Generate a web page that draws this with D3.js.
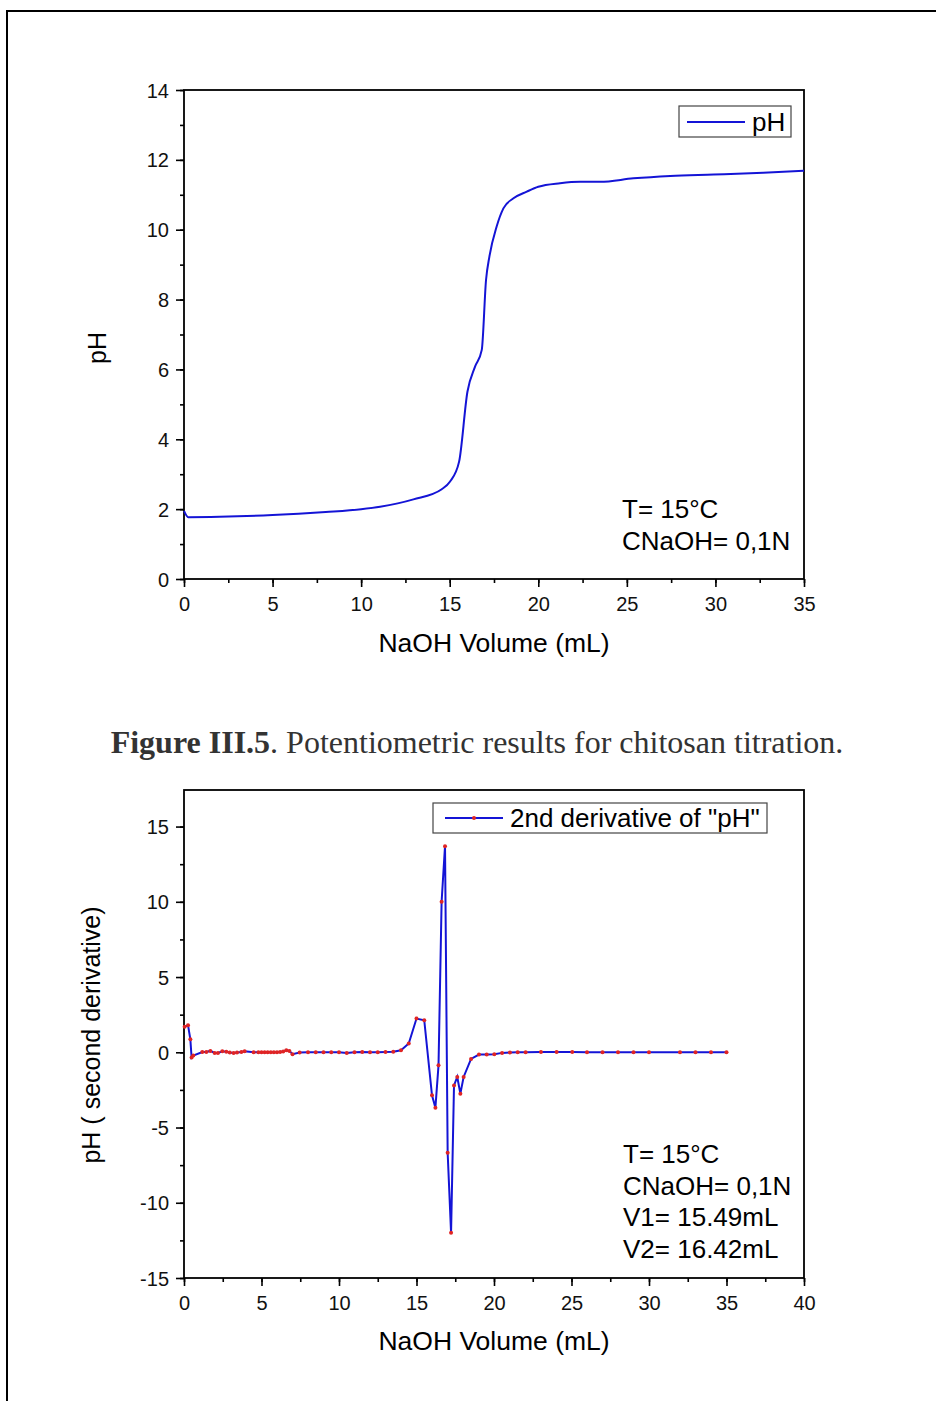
<!DOCTYPE html>
<html>
<head>
<meta charset="utf-8">
<script src="https://cdn.jsdelivr.net/npm/d3@7"></script>
<style>
  body { margin: 0; background: #fff; }
  svg text { font-family: "Liberation Sans", Arial, sans-serif; }
</style>
</head>
<body>
<div id="chart"></div>
<script>
// titration curve (top)
var phVolume = [0, 0.24, 2, 5, 8, 10, 11.07, 12.95, 14.55, 15.02, 15.53, 16.0, 16.43, 16.81, 17.05, 17.24, 17.65, 18.03, 18.6, 19.35, 20.0, 21.23, 22.36, 23.49, 25.37, 27.45, 29.9, 32.7, 35];
var phValues = [1.95, 1.77, 1.78, 1.83, 1.92, 2.0, 2.07, 2.28, 2.57, 2.79, 3.36, 5.36, 6.08, 6.56, 8.56, 9.23, 10.09, 10.61, 10.9, 11.09, 11.23, 11.33, 11.37, 11.37, 11.47, 11.54, 11.58, 11.63, 11.69];

// second derivative (bottom)
var d2Volume = [0.04, 0.26, 0.41, 0.49, 0.6, 1.18, 1.44, 1.7, 1.98, 2.19, 2.47, 2.73, 2.95, 3.2, 3.42, 3.7, 3.91, 4.49, 4.8, 5.0,
    5.2, 5.4, 5.6, 5.8, 6.0, 6.2, 6.4, 6.6, 6.8, 7.0, 7.46, 8.0, 8.5, 9.0, 9.5, 10.0, 10.5, 11.0, 11.5, 12.0,
    12.5, 13.0, 13.5, 14.0, 14.5, 15.0, 15.5, 16.0, 16.22, 16.42, 16.62, 16.84, 17.01, 17.23, 17.42, 17.63, 17.83, 18.04, 18.52, 19.03,
    19.53, 20.02, 20.52, 21.03, 21.53, 22.04, 23.03, 24.04, 25.05, 26.0, 27.0, 28.0, 29.0, 30.0, 32.0, 33.0, 34.0, 35.0];
var d2Values = [1.69, 1.8, 0.86, -0.35, -0.22, 0.02, 0.02, 0.09, -0.04, -0.04, 0.07, 0.04, -0.02, -0.04, -0.02, 0.02, 0.07, 0, 0, 0,
    0, 0, 0, 0, 0, 0.02, 0.05, 0.13, 0.09, -0.13, -0.02, 0, 0, 0, 0, 0, -0.04, 0, 0.02, 0,
    0, 0.02, 0.04, 0.13, 0.58, 2.24, 2.13, -2.86, -3.68, -0.87, 10.0, 13.7, -6.68, -12.0, -2.2, -1.64, -2.75, -1.64, -0.44, -0.15,
    -0.15, -0.13, -0.04, -0.02, 0, 0, 0.02, 0.02, 0.02, 0, 0, 0, 0, 0, 0, 0, 0, 0];

var topXTicks = [0, 5, 10, 15, 20, 25, 30, 35];
var topYTicks = [0, 2, 4, 6, 8, 10, 12, 14];
var botXTicks = [0, 5, 10, 15, 20, 25, 30, 35, 40];
var botYTicks = [-15, -10, -5, 0, 5, 10, 15];

var topNotes = ["T= 15°C", "CNaOH= 0,1N"];
var botNotes = ["T= 15°C", "CNaOH= 0,1N", "V1= 15.49mL", "V2= 16.42mL"];

var blue = "#1414d6";
var red = "#e02424";

var svg = d3.select("#chart")
    .append("svg")
    .attr("width", 936)
    .attr("height", 1401);

// page frame
svg.append("path")
    .attr("d", "M7,1401 V11 H936")
    .attr("fill", "none")
    .attr("stroke", "#000")
    .attr("stroke-width", 2);

function plain(d) { return String(d); }

function drawAxes(g, x, y, xTicks, yTicks, xMinor, yMinor) {
    var w = x.range()[1], h = y.range()[0];

    g.append("g")
        .attr("transform", "translate(0," + h + ")")
        .call(d3.axisBottom(x).tickValues(xMinor).tickSize(4).tickFormat(""));
    g.append("g")
        .call(d3.axisLeft(y).tickValues(yMinor).tickSize(4).tickFormat(""));

    var xa = g.append("g")
        .attr("transform", "translate(0," + h + ")")
        .call(d3.axisBottom(x).tickValues(xTicks).tickSize(8).tickPadding(10).tickFormat(plain));
    var ya = g.append("g")
        .call(d3.axisLeft(y).tickValues(yTicks).tickSize(8).tickPadding(7).tickFormat(plain));

    g.selectAll(".domain").remove();
    g.selectAll(".tick line").attr("stroke", "#000").attr("stroke-width", 1.6);
    xa.selectAll("text").attr("font-size", 20).attr("fill", "#111");
    ya.selectAll("text").attr("font-size", 20).attr("fill", "#111").attr("dy", "0.35em");

    g.append("rect")
        .attr("width", w)
        .attr("height", h)
        .attr("fill", "none")
        .attr("stroke", "#000")
        .attr("stroke-width", 1.8);
}

// ---------- top chart ----------
var topChart = svg.append("g").attr("transform", "translate(184,90)");
var x1 = d3.scaleLinear().domain([0, 35]).range([0, 620]);
var y1 = d3.scaleLinear().domain([0, 14]).range([489, 0]);

drawAxes(topChart, x1, y1, topXTicks, topYTicks,
    d3.range(0, 35.1, 2.5), d3.range(0, 14.1, 1));

var phData = phVolume.map(function (v, i) { return [v, phValues[i]]; });

topChart.append("path")
    .datum(phData)
    .attr("fill", "none")
    .attr("stroke", blue)
    .attr("stroke-width", 2)
    .attr("d", d3.line().curve(d3.curveMonotoneX)
        .x(function (d) { return x1(d[0]); }).y(function (d) { return y1(d[1]); }));

// legend
topChart.append("rect").attr("x", 495).attr("y", 16).attr("width", 112).attr("height", 31)
    .attr("fill", "#fff").attr("stroke", "#444").attr("stroke-width", 1.2);
topChart.append("line").attr("x1", 503).attr("x2", 561).attr("y1", 32).attr("y2", 32)
    .attr("stroke", blue).attr("stroke-width", 2);
topChart.append("text").attr("x", 568).attr("y", 41).attr("font-size", 26).text("pH");

topChart.selectAll(".note")
    .data(topNotes)
    .enter()
    .append("text")
    .attr("x", 438)
    .attr("y", function (d, i) { return 428 + i * 32; })
    .attr("font-size", 26)
    .text(function (d) { return d; });

topChart.append("text")
    .attr("transform", "translate(-78,258) rotate(-90)")
    .attr("text-anchor", "middle")
    .attr("font-size", 25)
    .text("pH");

topChart.append("text")
    .attr("x", 310)
    .attr("y", 562)
    .attr("text-anchor", "middle")
    .attr("font-size", 26.5)
    .text("NaOH Volume (mL)");

// caption
var cap = svg.append("text")
    .attr("x", 477)
    .attr("y", 753)
    .attr("text-anchor", "middle")
    .attr("font-size", 32)
    .attr("fill", "#333")
    .style("font-family", "'Liberation Serif', 'Times New Roman', serif");
cap.append("tspan").attr("font-weight", "bold").text("Figure III.5");
cap.append("tspan").text(". Potentiometric results for chitosan titration.");

// ---------- bottom chart ----------
var botChart = svg.append("g").attr("transform", "translate(184,790)");
var x2 = d3.scaleLinear().domain([0, 40]).range([0, 620]);
var y2 = d3.scaleLinear().domain([-15, 17.43]).range([488, 0]);

drawAxes(botChart, x2, y2, botXTicks, botYTicks,
    d3.range(0, 40.1, 2.5), d3.range(-15, 17.4, 2.5));

var d2Data = d2Volume.map(function (v, i) { return [v, d2Values[i]]; });

botChart.append("path")
    .datum(d2Data)
    .attr("fill", "none")
    .attr("stroke", blue)
    .attr("stroke-width", 2)
    .attr("d", d3.line().x(function (d) { return x2(d[0]); }).y(function (d) { return y2(d[1]); }));

botChart.selectAll(".pt")
    .data(d2Data)
    .enter()
    .append("circle")
    .attr("class", "pt")
    .attr("cx", function (d) { return x2(d[0]); })
    .attr("cy", function (d) { return y2(d[1]); })
    .attr("r", 2)
    .attr("fill", red);

// legend
botChart.append("rect").attr("x", 249).attr("y", 13).attr("width", 334).attr("height", 30)
    .attr("fill", "#fff").attr("stroke", "#444").attr("stroke-width", 1.2);
botChart.append("line").attr("x1", 261).attr("x2", 319).attr("y1", 28).attr("y2", 28)
    .attr("stroke", blue).attr("stroke-width", 2);
botChart.append("circle").attr("cx", 290).attr("cy", 28).attr("r", 2).attr("fill", red);
botChart.append("text").attr("x", 326).attr("y", 37).attr("font-size", 26).text('2nd derivative of "pH"');

botChart.selectAll(".note")
    .data(botNotes)
    .enter()
    .append("text")
    .attr("x", 439)
    .attr("y", function (d, i) { return 373 + i * 31.5; })
    .attr("font-size", 26)
    .text(function (d) { return d; });

botChart.append("text")
    .attr("transform", "translate(-84,245) rotate(-90)")
    .attr("text-anchor", "middle")
    .attr("font-size", 25)
    .text("pH ( second derivative)");

botChart.append("text")
    .attr("x", 310)
    .attr("y", 560)
    .attr("text-anchor", "middle")
    .attr("font-size", 26.5)
    .text("NaOH Volume (mL)");
</script>
</body>
</html>
